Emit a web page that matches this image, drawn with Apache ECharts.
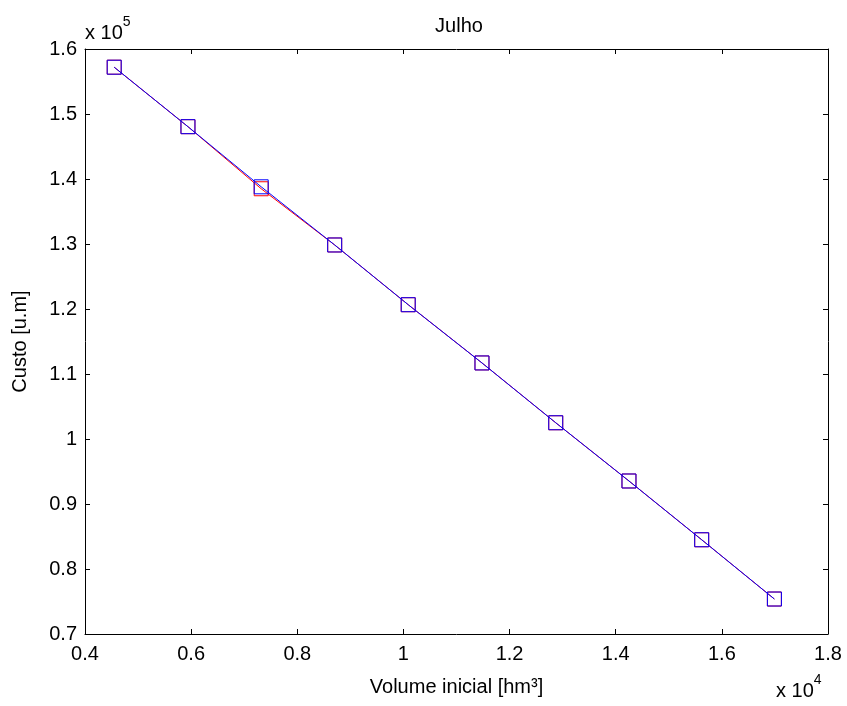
<!DOCTYPE html>
<html>
<head>
<meta charset="utf-8">
<script src="https://cdn.jsdelivr.net/npm/echarts@6/dist/echarts.min.js"></script>
<style>html,body{margin:0;padding:0;background:#fff}#c{width:847px;height:706px}</style>
</head>
<body>
<div id="c"></div>
<script>
// Volume inicial (x 10^4 hm³)
var volume = [0.455, 0.594, 0.732, 0.8705, 1.009, 1.148, 1.287, 1.425, 1.562, 1.699];
// Custo (x 10^5 u.m) - red series
var custoRed = [1.572, 1.4805, 1.385, 1.2985, 1.2066, 1.117, 1.025, 0.9354, 0.845, 0.7538];
// Custo (x 10^5 u.m) - blue series
var custoBlue = [1.572, 1.4805, 1.388, 1.2985, 1.2066, 1.117, 1.025, 0.9354, 0.845, 0.7538];
var xTicks = {min: 0.4, max: 1.8, interval: 0.2};
var yTicks = {min: 0.7, max: 1.6, interval: 0.1};

var FONT = "'Liberation Sans', Arial, sans-serif";
function pairs(xs, ys){ return xs.map(function(x,i){ return [x, ys[i]]; }); }

var chart = echarts.init(document.getElementById('c'), null, {renderer: 'canvas'});
var axisCommon = {
  type: 'value',
  axisLine: {show: true, onZero: false, lineStyle: {color: '#000', width: 1}},
  axisTick: {show: true, inside: true, length: 5, lineStyle: {color: '#000', width: 1}},
  splitLine: {show: false},
  minorTick: {show: false}
};
chart.setOption({
  animation: false,
  backgroundColor: '#fff',
  title: {
    text: 'Julho', left: 454, top: 11, textAlign: 'center',
    textStyle: {fontFamily: FONT, fontSize: 20, fontWeight: 'normal', color: '#000'}
  },
  grid: {left: 85, right: 19, top: 49, bottom: 72, containLabel: false},
  xAxis: [
    Object.assign({}, axisCommon, {
      min: xTicks.min, max: xTicks.max, interval: xTicks.interval, position: 'bottom',
      name: 'Volume inicial [hm³]', nameLocation: 'middle', nameGap: 43,
      nameTextStyle: {fontFamily: FONT, fontSize: 20, color: '#000'},
      axisLabel: {margin: 10, fontFamily: FONT, fontSize: 20, color: '#000'}
    }),
    Object.assign({}, axisCommon, {
      min: xTicks.min, max: xTicks.max, interval: xTicks.interval, position: 'top',
      axisLabel: {show: false}
    })
  ],
  yAxis: [
    Object.assign({}, axisCommon, {
      min: yTicks.min, max: yTicks.max, interval: yTicks.interval, position: 'left',
      name: 'Custo [u.m]', nameLocation: 'middle', nameGap: 55, nameRotate: 90,
      nameTextStyle: {fontFamily: FONT, fontSize: 20, color: '#000'},
      axisLabel: {margin: 8, fontFamily: FONT, fontSize: 20, color: '#000'}
    }),
    Object.assign({}, axisCommon, {
      min: yTicks.min, max: yTicks.max, interval: yTicks.interval, position: 'right',
      axisLabel: {show: false}
    })
  ],
  graphic: [
    {type: 'text', left: 85, top: 15, style: {
      text: '{b|x 10}{s|5}', fontFamily: FONT,
      rich: {b: {fontFamily: FONT, fontSize: 20, fill: '#000', padding: [8,0,0,0]},
             s: {fontFamily: FONT, fontSize: 14, fill: '#000', verticalAlign: 'top', padding: [0,0,10,0]}}
    }},
    {type: 'text', left: 776, top: 673, style: {
      text: '{b|x 10}{s|4}', fontFamily: FONT,
      rich: {b: {fontFamily: FONT, fontSize: 20, fill: '#000', padding: [8,0,0,0]},
             s: {fontFamily: FONT, fontSize: 14, fill: '#000', verticalAlign: 'top', padding: [0,0,10,0]}}
    }}
  ],
  series: [
    {
      type: 'line', data: pairs(volume, custoRed),
      symbol: 'rect', symbolSize: 14, showSymbol: true,
      lineStyle: {color: '#ff0000', width: 1},
      itemStyle: {color: 'rgba(0,0,0,0)', borderColor: '#ff0000', borderWidth: 1},
      z: 2
    },
    {
      type: 'line', data: pairs(volume, custoBlue),
      symbol: 'rect', symbolSize: 14, showSymbol: true,
      lineStyle: {color: '#0000ff', width: 1},
      itemStyle: {color: 'rgba(0,0,0,0)', borderColor: '#0000ff', borderWidth: 1},
      z: 3
    }
  ]
});
</script>
</body>
</html>
